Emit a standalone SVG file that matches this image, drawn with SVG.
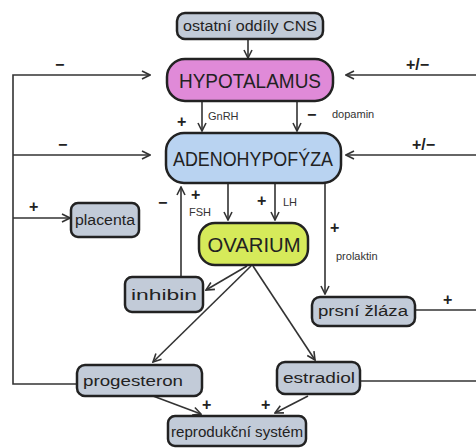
<svg xmlns="http://www.w3.org/2000/svg" width="476" height="448" viewBox="0 0 476 448">
<style>
.box{stroke:#222;stroke-width:2.5}
.big{font-family:"Liberation Sans","DejaVu Sans",sans-serif;font-size:21px;fill:#222;text-anchor:middle}
.sm{font-family:"Liberation Sans","DejaVu Sans",sans-serif;font-size:14px;fill:#222;text-anchor:middle}
.lbl{font-family:"Liberation Sans","DejaVu Sans",sans-serif;font-size:11px;fill:#333}
.sign{font-family:"Liberation Sans","DejaVu Sans",sans-serif;font-size:16px;fill:#222;font-weight:bold}
.c{fill:none;stroke:#333;stroke-width:1.6}
.gray{fill:#c2cbd8}
</style>
<defs>
<marker id="ah" viewBox="0 0 10 10" refX="9" refY="5" markerWidth="10" markerHeight="10" markerUnits="userSpaceOnUse" orient="auto">
<path d="M1,1 L9,5 L1,9" fill="none" stroke="#333" stroke-width="1.6"/>
</marker>
</defs>
<rect width="476" height="448" fill="#fff"/>
<g id="connectors">
<path class="c" d="M248,39 V58" marker-end="url(#ah)"/>
<path class="c" d="M77,384 H13 V75 H150" marker-end="url(#ah)"/>
<path class="c" d="M13,155 H150" marker-end="url(#ah)"/>
<path class="c" d="M13,218 H70" marker-end="url(#ah)"/>
<path class="c" d="M476,75 H346" marker-end="url(#ah)"/>
<path class="c" d="M476,155 H346" marker-end="url(#ah)"/>
<path class="c" d="M202,101 V131" marker-end="url(#ah)"/>
<path class="c" d="M297,101 V131" marker-end="url(#ah)"/>
<path class="c" d="M228,183 V220" marker-end="url(#ah)"/>
<path class="c" d="M275,183 V220" marker-end="url(#ah)"/>
<path class="c" d="M181,277 V187" marker-end="url(#ah)"/>
<path class="c" d="M325,183 V294" marker-end="url(#ah)"/>
<path class="c" d="M247,266 L206,290" marker-end="url(#ah)"/>
<path class="c" d="M251,266 L153,362" marker-end="url(#ah)"/>
<path class="c" d="M253,266 L315,360" marker-end="url(#ah)"/>
<path class="c" d="M153,396 L201,414" marker-end="url(#ah)"/>
<path class="c" d="M308,396 L275,413" marker-end="url(#ah)"/>
<path class="c" d="M415,310 H476"/>
<path class="c" d="M360,381 H476"/>
<text class="sign" x="55" y="70">−</text>
<text class="sign" x="406" y="70">+/−</text>
<text class="sign" x="58" y="150">−</text>
<text class="sign" x="412" y="150">+/−</text>
<text class="sign" x="29" y="212">+</text>
<text class="sign" x="177" y="127">+</text>
<text class="lbl" x="208" y="120">GnRH</text>
<text class="sign" x="307" y="120">−</text>
<text class="lbl" x="332" y="118">dopamin</text>
<text class="sign" x="191" y="200">+</text>
<text class="lbl" x="189" y="216">FSH</text>
<text class="sign" x="158" y="208">−</text>
<text class="sign" x="257" y="206">+</text>
<text class="lbl" x="283" y="206">LH</text>
<text class="sign" x="330" y="233">+</text>
<text class="lbl" x="336" y="260">prolaktin</text>
<text class="sign" x="443" y="305">+</text>
<text class="sign" x="202" y="410">+</text>
<text class="sign" x="261" y="410">+</text>
</g>
<g id="ostatni-oddily-cns">
<rect class="box gray" x="177" y="13" width="146" height="26" rx="8"/>
<text class="sm" x="250" y="31" textLength="134" lengthAdjust="spacingAndGlyphs">ostatní oddíly CNS</text>
</g>
<g id="hypotalamus">
<rect class="box" x="167" y="59" width="166" height="42" rx="18" fill="#e08ad8"/>
<text class="big" x="250" y="88" textLength="142" lengthAdjust="spacingAndGlyphs">HYPOTALAMUS</text>
</g>
<g id="adenohypofyza">
<rect class="box" x="166" y="133" width="175" height="50" rx="18" fill="#b9d3f1"/>
<text class="big" x="253" y="166" textLength="160" lengthAdjust="spacingAndGlyphs">ADENOHYPOFÝZA</text>
</g>
<g id="ovarium">
<rect class="box" x="199" y="223" width="109" height="42" rx="16" fill="#d6ea5a"/>
<text class="big" x="254" y="252" textLength="93" lengthAdjust="spacingAndGlyphs">OVARIUM</text>
</g>
<g id="placenta">
<rect class="box gray" x="71" y="203" width="68" height="34" rx="7"/>
<text class="sm" x="105" y="225" textLength="60" lengthAdjust="spacingAndGlyphs">placenta</text>
</g>
<g id="inhibin">
<rect class="box gray" x="125" y="277" width="78" height="35" rx="7"/>
<text class="sm" x="164" y="300" textLength="66" lengthAdjust="spacingAndGlyphs">inhibin</text>
</g>
<g id="prsni-zlaza">
<rect class="box gray" x="312" y="297" width="103" height="29" rx="8"/>
<text class="sm" x="363" y="316" textLength="90" lengthAdjust="spacingAndGlyphs">prsní žláza</text>
</g>
<g id="progesteron">
<rect class="box gray" x="77" y="365" width="125" height="31" rx="8"/>
<text class="sm" x="133" y="386" textLength="100" lengthAdjust="spacingAndGlyphs">progesteron</text>
</g>
<g id="estradiol">
<rect class="box gray" x="277" y="362" width="83" height="32" rx="8"/>
<text class="sm" x="319" y="383" textLength="72" lengthAdjust="spacingAndGlyphs">estradiol</text>
</g>
<g id="reprodukcni-system">
<rect class="box gray" x="168" y="416" width="138" height="30" rx="7"/>
<text class="sm" x="237" y="437" textLength="132" lengthAdjust="spacingAndGlyphs">reprodukční systém</text>
</g>
</svg>
